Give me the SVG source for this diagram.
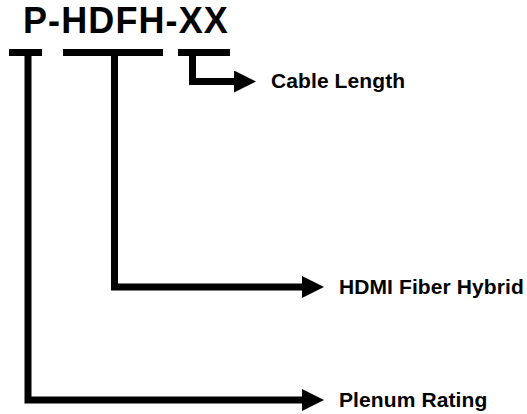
<svg xmlns="http://www.w3.org/2000/svg" width="527" height="414" viewBox="0 0 527 414">
  <style>
    .t { font-family: "Liberation Sans", Arial, sans-serif; font-weight: bold; fill: #000; }
    .title { font-size: 36px; letter-spacing: 1.1px; }
    .lbl { font-size: 21px; letter-spacing: 0.1px; }
    .bar { fill: #000; }
    .conn { fill: none; stroke: #000; stroke-width: 7; stroke-linejoin: miter; stroke-linecap: butt; }
  </style>
  <defs>
    <marker id="arr" markerUnits="userSpaceOnUse" markerWidth="22" markerHeight="22" viewBox="0 0 22 22" refX="0" refY="11" orient="auto">
      <path d="M0,0 L22,11 L0,22 Z" fill="#000"/>
    </marker>
  </defs>
  <rect width="527" height="414" fill="#fff"/>
  <g id="title">
    <text class="t title" x="23" y="33">P-HDFH-XX</text>
    <rect class="bar" x="9" y="49" width="33" height="7"/>
    <rect class="bar" x="63" y="49" width="100" height="7"/>
    <rect class="bar" x="178" y="49" width="52" height="7"/>
  </g>
  <g id="connectors">
    <path class="conn" d="M192.5,52 V81.5 H234" marker-end="url(#arr)"/>
    <path class="conn" d="M114.5,52 V287 H302" marker-end="url(#arr)"/>
    <path class="conn" d="M28,52 V400 H302" marker-end="url(#arr)"/>
  </g>
  <g id="cable-length">
    <text class="t lbl" x="271" y="88">Cable Length</text>
  </g>
  <g id="hdmi-fiber-hybrid">
    <text class="t lbl" x="339" y="294">HDMI Fiber Hybrid</text>
  </g>
  <g id="plenum-rating">
    <text class="t lbl" x="339" y="407">Plenum Rating</text>
  </g>
</svg>
